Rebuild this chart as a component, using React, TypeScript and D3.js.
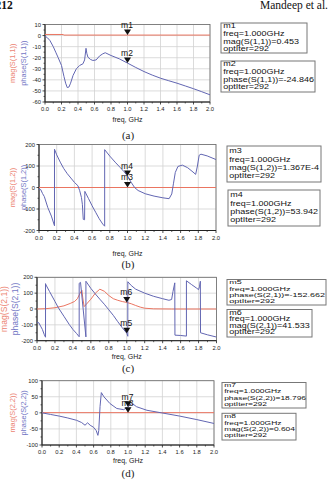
import React from 'react';
import * as d3 from 'd3';

// ---------- shared styling ----------
const BLUE = '#6266b2';
const RED = '#ea7561';
const BLUE_LABEL = '#7276c4';
const RED_LABEL = '#ec8474';
const GRID = '#d2d2d2';
const SANS = '"Liberation Sans", Arial, sans-serif';
const SERIF = '"Liberation Serif", "Times New Roman", serif';

// ---------- axes ----------
const freqTicks = [0, 0.2, 0.4, 0.6, 0.8, 1.0, 1.2, 1.4, 1.6, 1.8, 2.0];
const freqTickLabels = ['0.0', '0.2', '0.4', '0.6', '0.8', '1.0', '1.2', '1.4', '1.6', '1.8', '2.0'];
const markerFreq = 1.0;

const s11Ticks = [10, 0, -10, -20, -30, -40, -50, -60];
const s12Ticks = [200, 100, 0, -100, -200];
const s21Ticks = [200, 100, 0, -100, -200];
const s22Ticks = [100, 50, 0, -50, -100];

// ---------- (a) S(1,1) ----------
const s11PhaseFreq = [0, 0.03, 0.06, 0.1, 0.13, 0.16, 0.2, 0.23, 0.25, 0.27, 0.29, 0.31, 0.34, 0.38, 0.42, 0.46, 0.48, 0.497, 0.507, 0.52, 0.55, 0.58, 0.62, 0.66, 0.7, 0.73, 0.8, 0.9, 1.0, 1.1, 1.2, 1.3, 1.4, 1.5, 1.6, 1.7, 1.8, 1.9, 2.0];
const s11Phase = [-0.5, -2, -4.5, -10, -15, -20, -27, -37, -43, -47, -46.5, -43, -36, -30, -27, -25.5, -22, -11.5, -16, -19.5, -21.5, -22.5, -22, -18.5, -16.5, -15.5, -18, -21, -24.846, -28.8, -32.5, -35.7, -38.5, -40.8, -43, -45.5, -48, -50.7, -53.5];
const s11MagFreq = [0, 0.22, 0.23, 1.0, 2.0];
const s11Mag = [1.0, 0.98, 0.453, 0.453, 0.453];

// ---------- (b) S(1,2) ----------
const s12PhaseFreq = [0, 0.02, 0.04, 0.06, 0.1, 0.14, 0.175, 0.175, 0.2, 0.24, 0.28, 0.32, 0.36, 0.4, 0.44, 0.46, 0.48, 0.49, 0.5, 0.515, 0.518, 0.56, 0.6, 0.64, 0.68, 0.72, 0.742, 0.742, 0.8, 0.86, 0.92, 0.96, 1.0, 1.04, 1.08, 1.12, 1.2, 1.3, 1.4, 1.47, 1.5, 1.52, 1.54, 1.57, 1.62, 1.68, 1.74, 1.77, 1.79, 1.81, 1.83, 1.9, 2.0];
const s12Phase = [-8, -10, -28, -42, -94, -133, -178, 178, 152, 118, 88, 64, 44, 24, 8, -15, -47, -78, -148, -150, -18, -52, -85, -115, -145, -170, -180, 176, 146, 118, 92, 74, 53.942, 25, 0, -14, -29, -40, -48, -52, -30, 20, 70, 98, 104, 92, 72, 61, 100, 150, 155, 147, 130];
const s12MagFreq = [0, 1.0, 2.0];
const s12Mag = [1.367e-4, 1.367e-4, 1.367e-4];

// ---------- (c) S(2,1) ----------
const s21PhaseFreq = [0, 0.02, 0.04, 0.06, 0.08, 0.095, 0.095, 0.1, 0.14, 0.2, 0.24, 0.3, 0.36, 0.4, 0.44, 0.47, 0.47, 0.485, 0.545, 0.545, 0.6, 0.65, 0.7, 0.75, 0.8, 0.85, 0.9, 0.95, 1.0, 1.012, 1.012, 1.05, 1.1, 1.2, 1.3, 1.4, 1.47, 1.5, 1.515, 1.535, 1.537, 1.6, 1.665, 1.665, 1.72, 1.78, 1.8, 1.81, 1.82, 1.822, 1.9, 2.0];
const s21Phase = [-83, -87, -108, -129, -160, -178, 160, 152, 110, 48, 6, -46, -98, -129, -154, -175, 162, 168, -176, 175, 130, 95, 62, 30, -5, -40, -80, -118, -152.662, -172, 172, 148, 125, 100, 80, 65, 55, 60, 110, 165, -165, -167, -171, 178, 155, 131, 122, 140, 175, -150, -163, -177];
const s21MagFreq = [0, 0.1, 0.2, 0.3, 0.37, 0.42, 0.45, 0.48, 0.5, 0.51, 0.525, 0.55, 0.6, 0.65, 0.7, 0.75, 0.8, 0.85, 0.9, 0.95, 1.0, 1.05, 1.1, 1.15, 1.2, 1.3, 1.5, 2.0];
const s21Mag = [0, 2, 8, 20, 35, 48, 65, 100, 118, 70, 15, 30, 62, 100, 125, 112, 85, 65, 55, 47, 41.533, 33, 22, 12, 5, 1, 0, 0];

// ---------- (d) S(2,2) ----------
const s22PhaseFreq = [0, 0.1, 0.2, 0.3, 0.4, 0.46, 0.5, 0.53, 0.56, 0.6, 0.63, 0.65, 0.66, 0.675, 0.69, 0.72, 0.79, 0.87, 0.95, 1.0, 1.04, 1.07, 1.1, 1.22, 1.39, 1.6, 1.8, 2.0];
const s22Phase = [0, -5, -10, -16, -23, -30, -38.5, -31, -38.5, -45, -55, -70, -55, 20, 63, 50, 29, 13.5, 10, 18.796, 28, 25, 19, 8, 0, -10, -21, -33];
const s22MagFreq = [0, 1.0, 2.0];
const s22Mag = [0.604, 0.604, 0.604];

// ---------- marker read-outs ----------
const m1Lines = ['m1', 'freq=1.000GHz', 'mag(S(1,1))=0.453', 'optIter=292'];
const m2Lines = ['m2', 'freq=1.000GHz', 'phase(S(1,1))=-24.846', 'optIter=292'];
const m3Lines = ['m3', 'freq=1.000GHz', 'mag(S(1,2))=1.367E-4', 'optIter=292'];
const m4Lines = ['m4', 'freq=1.000GHz', 'phase(S(1,2))=53.942', 'optIter=292'];
const m5Lines = ['m5', 'freq=1.000GHz', 'phase(S(2,1))=-152.662', 'optIter=292'];
const m6Lines = ['m6', 'freq=1.000GHz', 'mag(S(2,1))=41.533', 'optIter=292'];
const m7Lines = ['m7', 'freq=1.000GHz', 'phase(S(2,2))=18.796', 'optIter=292'];
const m8Lines = ['m8', 'freq=1.000GHz', 'mag(S(2,2))=0.604', 'optIter=292'];

type Frame = { left: number; right: number; top: number; bottom: number };
type Marker = { name: string; value: number };
type Readout = { x: number; y: number; w: number; h: number; lines: string[]; first: number; step: number; sy: number; size: number };

type PanelProps = {
  id: string;
  frame: Frame;
  yDomain: [number, number];
  yTicks: number[];
  magLabel: string;
  phaseLabel: string;
  labelX: [number, number];
  labelSize: number;
  phaseF: number[];
  phaseV: number[];
  magF: number[];
  magV: number[];
  markers: Marker[];
  readouts: Readout[];
  caption: string;
  tickLabelY: number;
  axisTitleY: number;
  captionY: number;
};

function Panel(p: PanelProps) {
  const { left, right, top, bottom } = p.frame;
  const x = d3.scaleLinear().domain([0, 2]).range([left, right]);
  const y = d3.scaleLinear().domain(p.yDomain).range([bottom, top]);
  const line = d3.line<[number, number]>().x(d => x(d[0])).y(d => y(d[1]));
  const phasePath = line(d3.zip(p.phaseF, p.phaseV) as [number, number][]) || '';
  const magPath = line(d3.zip(p.magF, p.magV) as [number, number][]) || '';
  const minorX = d3.range(0.1, 2, 0.2);
  const minorY = p.yTicks.slice(1).map((t, i) => (t + p.yTicks[i]) / 2);
  const midY = (top + bottom) / 2;
  const cx = (left + right) / 2;

  return (
    <g>
      <defs>
        <clipPath id={`clip-${p.id}`}>
          <rect x={left} y={top - 1} width={right - left} height={bottom - top + 2} />
        </clipPath>
      </defs>
      {/* grid */}
      {freqTicks.map(t => (
        <line key={`gx${t}`} x1={x(t)} x2={x(t)} y1={top} y2={bottom} stroke={GRID} strokeWidth={0.8} />
      ))}
      {p.yTicks.map(t => (
        <line key={`gy${t}`} x1={left} x2={right} y1={y(t)} y2={y(t)} stroke={GRID} strokeWidth={0.8} />
      ))}
      {/* frame */}
      <rect x={left} y={top} width={right - left} height={bottom - top} fill="none" stroke="#6a6a6a" strokeWidth={0.8} />
      <line x1={left} x2={left} y1={top} y2={bottom} stroke="#222" strokeWidth={1} />
      <line x1={left} x2={right} y1={bottom} y2={bottom} stroke="#222" strokeWidth={1} />
      {/* ticks */}
      {freqTicks.map(t => (
        <line key={`tx${t}`} x1={x(t)} x2={x(t)} y1={bottom} y2={bottom + 2.5} stroke="#222" strokeWidth={0.8} />
      ))}
      {minorX.map(t => (
        <line key={`mx${t}`} x1={x(t)} x2={x(t)} y1={bottom} y2={bottom + 1.5} stroke="#222" strokeWidth={0.7} />
      ))}
      {p.yTicks.map(t => (
        <line key={`ty${t}`} x1={left - 2.5} x2={left} y1={y(t)} y2={y(t)} stroke="#222" strokeWidth={0.8} />
      ))}
      {minorY.map(t => (
        <line key={`my${t}`} x1={left - 1.5} x2={left} y1={y(t)} y2={y(t)} stroke="#222" strokeWidth={0.7} />
      ))}
      {/* tick labels */}
      {freqTicks.map((t, i) => (
        <text key={`lx${t}`} x={x(t)} y={p.tickLabelY} textAnchor="middle" fontFamily={SANS} fontSize={5.8} fill="#222">
          {freqTickLabels[i]}
        </text>
      ))}
      {p.yTicks.map(t => (
        <text key={`ly${t}`} x={left - 4} y={y(t)} dy="0.35em" textAnchor="end" fontFamily={SANS} fontSize={5.8} fill="#222">
          {String(t)}
        </text>
      ))}
      {/* axis titles */}
      <text x={cx} y={p.axisTitleY} textAnchor="middle" fontFamily={SANS} fontSize={7} fill="#222">freq, GHz</text>
      <text transform={`translate(${p.labelX[0]},${midY}) rotate(-90)`} textAnchor="middle" dy="0.35em" fontFamily={SANS} fontSize={p.labelSize} fill={RED_LABEL}>
        {p.magLabel}
      </text>
      <text transform={`translate(${p.labelX[1]},${midY}) rotate(-90)`} textAnchor="middle" dy="0.35em" fontFamily={SANS} fontSize={p.labelSize} fill={BLUE_LABEL}>
        {p.phaseLabel}
      </text>
      {/* traces */}
      <g clipPath={`url(#clip-${p.id})`}>
        <path d={magPath} fill="none" stroke={RED} strokeWidth={1} />
        <path d={phasePath} fill="none" stroke={BLUE} strokeWidth={1} />
      </g>
      {/* markers */}
      {p.markers.map(m => {
        const mx = x(markerFreq);
        const my = y(m.value);
        return (
          <g key={m.name}>
            <path d={`M${mx - 3.5},${my - 5.5}L${mx + 3.5},${my - 5.5}L${mx},${my}Z`} fill="#111" />
            <text x={mx - 0.5} y={my - 7} textAnchor="middle" fontFamily={SANS} fontSize={8.5} fill="#111">{m.name}</text>
          </g>
        );
      })}
      {/* read-out boxes */}
      {p.readouts.map(r => (
        <g key={r.lines[0]}>
          <rect x={r.x} y={r.y} width={r.w} height={r.h} fill="#fff" stroke="#777" strokeWidth={1} />
          {r.lines.map((s, i) => (
            <text key={s} transform={`translate(${r.x + 2.2},${r.y + r.first + i * r.step}) scale(1,${r.sy})`} fontFamily={SANS} fontSize={r.size} fill="#111">
              {s}
            </text>
          ))}
        </g>
      ))}
      {/* caption */}
      <text x={128} y={p.captionY} textAnchor="middle" fontFamily={SERIF} fontSize={11} fill="#222">{p.caption}</text>
    </g>
  );
}

export default function App() {
  return (
    <div style={{ position: 'absolute', left: 0, top: 0, width: 330, height: 480, background: '#fff' }}>
      <svg width={330} height={480} viewBox="0 0 330 480" style={{ display: 'block' }}>
        <rect width={330} height={480} fill="#fff" />
        <text x={-4.5} y={9} fontFamily={SERIF} fontWeight="bold" fontSize={11.5} fill="#111">212</text>
        <text x={328} y={9} textAnchor="end" fontFamily={SERIF} fontSize={11.5} fill="#111">Mandeep et al.</text>

        <Panel
          id="a"
          frame={{ left: 45, right: 210, top: 24.5, bottom: 102 }}
          yDomain={[-60, 10]}
          yTicks={s11Ticks}
          magLabel="mag(S(1,1))"
          phaseLabel="phase(S(1,1))"
          labelX={[12, 23]}
          labelSize={7.4}
          phaseF={s11PhaseFreq}
          phaseV={s11Phase}
          magF={s11MagFreq}
          magV={s11Mag}
          markers={[{ name: 'm1', value: 0.453 }, { name: 'm2', value: -24.846 }]}
          readouts={[
            { x: 221, y: 23, w: 86, h: 30, lines: m1Lines, first: 5.3, step: 7.6, sy: 0.82, size: 9 },
            { x: 221, y: 61, w: 94, h: 31, lines: m2Lines, first: 5.3, step: 7.6, sy: 0.82, size: 9 },
          ]}
          caption="(a)"
          tickLabelY={110.5}
          axisTitleY={122}
          captionY={138.5}
        />

        <Panel
          id="b"
          frame={{ left: 39, right: 216, top: 144.5, bottom: 230.5 }}
          yDomain={[-200, 200]}
          yTicks={s12Ticks}
          magLabel="mag(S(1,2))"
          phaseLabel="phase(S(1,2))"
          labelX={[12, 23]}
          labelSize={7.4}
          phaseF={s12PhaseFreq}
          phaseV={s12Phase}
          magF={s12MagFreq}
          magV={s12Mag}
          markers={[{ name: 'm3', value: 1.367e-4 }, { name: 'm4', value: 53.942 }]}
          readouts={[
            { x: 227, y: 146, w: 94, h: 36, lines: m3Lines, first: 7.4, step: 8.1, sy: 0.88, size: 9 },
            { x: 228, y: 190, w: 92, h: 36, lines: m4Lines, first: 7.4, step: 8.1, sy: 0.88, size: 9 },
          ]}
          caption="(b)"
          tickLabelY={239.5}
          axisTitleY={255.5}
          captionY={267.5}
        />

        <Panel
          id="c"
          frame={{ left: 37, right: 216.5, top: 277.3, bottom: 340.7 }}
          yDomain={[-200, 200]}
          yTicks={s21Ticks}
          magLabel="mag(S(2,1))"
          phaseLabel="phase(S(2,1))"
          labelX={[4, 15]}
          labelSize={8.6}
          phaseF={s21PhaseFreq}
          phaseV={s21Phase}
          magF={s21MagFreq}
          magV={s21Mag}
          markers={[{ name: 'm6', value: 41.533 }, { name: 'm5', value: -152.662 }]}
          readouts={[
            { x: 227, y: 279.5, w: 99, h: 25.5, lines: m5Lines, first: 4.8, step: 6.2, sy: 0.68, size: 9 },
            { x: 227, y: 309.5, w: 85, h: 27.5, lines: m6Lines, first: 5.2, step: 6.5, sy: 0.7, size: 9 },
          ]}
          caption="(c)"
          tickLabelY={349.7}
          axisTitleY={359}
          captionY={371.5}
        />

        <Panel
          id="d"
          frame={{ left: 42, right: 214, top: 380.7, bottom: 445 }}
          yDomain={[-100, 100]}
          yTicks={s22Ticks}
          magLabel="mag(S(2,2))"
          phaseLabel="phase(S(2,2))"
          labelX={[12.5, 23]}
          labelSize={7.4}
          phaseF={s22PhaseFreq}
          phaseV={s22Phase}
          magF={s22MagFreq}
          magV={s22Mag}
          markers={[{ name: 'm8', value: 0.604 }, { name: 'm7', value: 18.796 }]}
          readouts={[
            { x: 222, y: 382.5, w: 84, h: 25.5, lines: m7Lines, first: 4.8, step: 6.1, sy: 0.68, size: 8.4 },
            { x: 222, y: 413.3, w: 74, h: 26.7, lines: m8Lines, first: 5.0, step: 6.2, sy: 0.7, size: 8.4 },
          ]}
          caption="(d)"
          tickLabelY={453.8}
          axisTitleY={462.5}
          captionY={476.5}
        />
      </svg>
    </div>
  );
}
